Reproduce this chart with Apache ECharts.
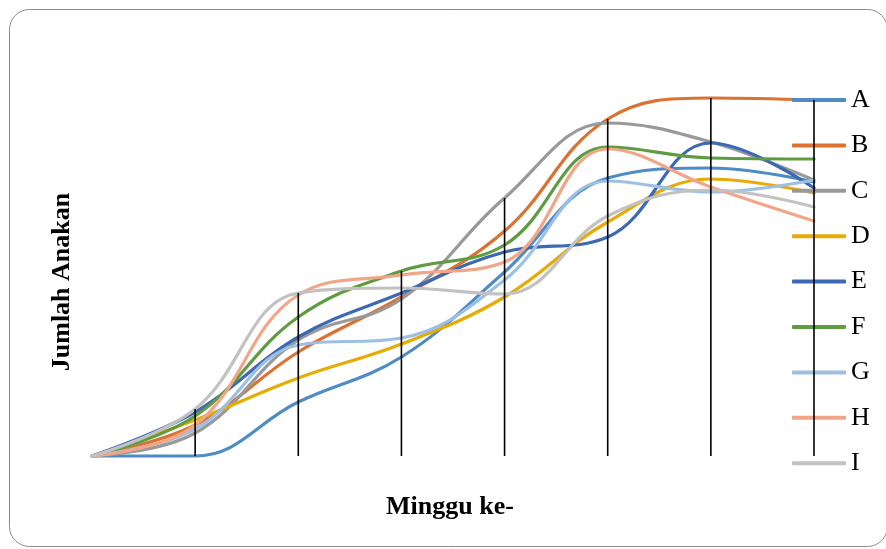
<!DOCTYPE html>
<html>
<head>
<meta charset="utf-8">
<title>Jumlah Anakan per Minggu</title>
<script src="https://cdn.jsdelivr.net/npm/echarts@6/dist/echarts.min.js"></script>
<style>
  html, body { margin: 0; padding: 0; background: #ffffff; }
  #chart { width: 886px; height: 549px; }
</style>
</head>
<body>
<div id="chart"></div>
<script>
// Weeks 0..7 (category labels are not displayed on the axis)
const weeks = ['0', '1', '2', '3', '4', '5', '6', '7'];

// Tiller counts per treatment
const seriesNames = ['A', 'B', 'C', 'D', 'E', 'F', 'G', 'H', 'I'];
const A = [0, 0, 54, 99, 184, 278, 288, 274];
const B = [0, 31, 104, 159, 225, 337, 358, 356];
const C = [0, 23, 116, 157, 258, 333, 314, 276];
const D = [0, 36, 78, 112, 159, 234, 277, 263];
const E = [0, 44, 119, 163, 204, 219, 313, 268];
const F = [0, 40, 139, 185, 211, 309, 298, 297];
const G = [0, 27, 111, 118, 176, 275, 264, 276];
const H = [0, 31, 161, 181, 194, 307, 269, 235];
const I = [0, 47, 163, 168, 162, 240, 266, 249];

const colors = ['#4f8bc4', '#dc7231', '#999999', '#e6ab05', '#3d68b3',
                '#5f9c41', '#9dbfe3', '#f1a688', '#c2c2c2'];

const allData = [A, B, C, D, E, F, G, H, I];

// Drop lines reach from the axis up to the highest series at each week
const dropTop = weeks.map((_, i) => Math.max(...allData.map(s => s[i])));

const serif = 'Liberation Serif, Times New Roman, serif';

const chart = echarts.init(document.getElementById('chart'), null, { renderer: 'canvas' });

const lineSeries = seriesNames.map((name, k) => ({
  name: name,
  type: 'line',
  data: allData[k],
  smooth: 0.4,
  symbol: 'none',
  clip: false,
  z: 2,
  lineStyle: { width: 3.2, color: colors[k], cap: 'round' },
  itemStyle: { color: colors[k] }
}));

chart.setOption({
  animation: false,
  backgroundColor: '#ffffff',
  grid: { left: 92, right: 72, top: 56, bottom: 93 },
  xAxis: {
    type: 'category',
    data: weeks,
    boundaryGap: false,
    axisLine: { show: false },
    axisTick: { show: false },
    axisLabel: { show: false },
    splitLine: { show: false }
  },
  yAxis: {
    type: 'value',
    min: 0,
    max: 400,
    axisLine: { show: false },
    axisTick: { show: false },
    axisLabel: { show: false },
    splitLine: { show: false }
  },
  legend: {
    orient: 'vertical',
    left: 792,
    top: 87,
    padding: 0,
    data: seriesNames,
    icon: 'roundRect',
    itemWidth: 54,
    itemHeight: 4,
    itemGap: 19.4,
    z: 4,
    textStyle: { fontFamily: serif, fontSize: 26, color: '#000000', lineHeight: 26 }
  },
  graphic: [
    {
      type: 'rect',
      z: -1,
      silent: true,
      shape: { x: 9.5, y: 9.5, width: 878, height: 537, r: 20 },
      style: { fill: 'none', stroke: '#8a8a8a', lineWidth: 1 }
    },
    {
      type: 'text',
      x: 450,
      y: 507,
      style: {
        text: 'Minggu ke-',
        font: 'bold 26px ' + serif,
        fill: '#000000',
        textAlign: 'center',
        textVerticalAlign: 'middle'
      }
    },
    {
      type: 'text',
      x: 62,
      y: 282,
      rotation: Math.PI / 2,
      style: {
        text: 'Jumlah Anakan',
        font: 'bold 26px ' + serif,
        fill: '#000000',
        textAlign: 'center',
        textVerticalAlign: 'middle'
      }
    }
  ],
  series: lineSeries.concat([{
    name: 'drop',
    type: 'bar',
    data: dropTop,
    barWidth: 1.6,
    z: 10,
    silent: true,
    itemStyle: { color: '#000000' },
    legendHoverLink: false
  }])
});
</script>
</body>
</html>
